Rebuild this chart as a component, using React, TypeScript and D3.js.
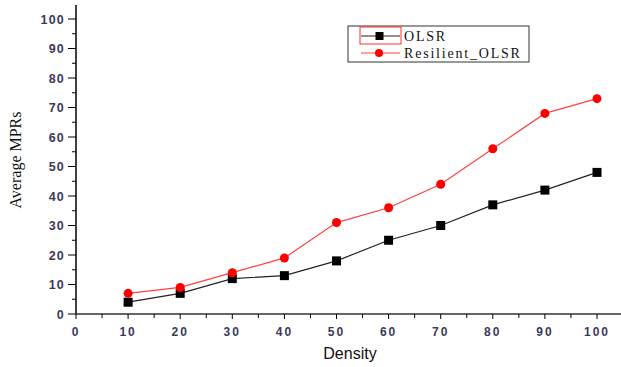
import React from "react";
import * as d3 from "d3";

const densities = [10, 20, 30, 40, 50, 60, 70, 80, 90, 100];
const olsr = [4, 7, 12, 13, 18, 25, 30, 37, 42, 48];
const resilient = [7, 9, 14, 19, 31, 36, 44, 56, 68, 73];
const xTicks = [0, 10, 20, 30, 40, 50, 60, 70, 80, 90, 100];
const yTicks = [0, 10, 20, 30, 40, 50, 60, 70, 80, 90, 100];
const seriesNames = ["OLSR", "Resilient_OLSR"];

export default function App() {
  const W = 621, H = 367;
  const x = d3.scaleLinear().domain([0, 100]).range([76, 597]);
  const y = d3.scaleLinear().domain([0, 100]).range([314, 19]);
  const line = d3.line<number>().x((_, i) => x(densities[i])).y((d) => y(d));
  const minorX = d3.range(5, 110, 10);
  const minorY = d3.range(5, 105, 10);
  const tickColor = "#3a3a5a";
  return (
    <svg width={W} height={H} style={{ position: "absolute", left: 0, top: 0 }}>
      <rect width={W} height={H} fill="#fff" />
      {/* axes */}
      <line x1={x(0)} x2={x(0)} y1={5} y2={y(0)} stroke="#000" strokeWidth={1.5} />
      <line x1={x(0)} x2={621} y1={y(0)} y2={y(0)} stroke="#333" strokeWidth={1.5} />
      {yTicks.map((t) => (
        <g key={"y" + t}>
          <line x1={x(0) - 8} x2={x(0)} y1={y(t)} y2={y(t)} stroke="#000" />
          <text x={x(0) - 11} y={y(t) + 4.5} textAnchor="end" fontFamily="Arial, Liberation Sans" fontWeight="bold" fontSize={12.5} fill={tickColor} letterSpacing={1.2}>{t}</text>
        </g>
      ))}
      {minorY.map((t) => (
        <line key={"my" + t} x1={x(0) - 4} x2={x(0)} y1={y(t)} y2={y(t)} stroke="#000" />
      ))}
      {xTicks.map((t) => (
        <g key={"x" + t}>
          <line x1={x(t)} x2={x(t)} y1={y(0)} y2={y(0) + 5} stroke="#000" />
          <text x={x(t)} y={y(0) + 22} textAnchor="middle" fontFamily="Arial, Liberation Sans" fontWeight="bold" fontSize={12} fill={tickColor} letterSpacing={2}>{t}</text>
        </g>
      ))}
      {minorX.map((t) => (
        <line key={"mx" + t} x1={x(t)} x2={x(t)} y1={y(0)} y2={y(0) + 4} stroke="#000" />
      ))}
      {/* axis titles */}
      <text x={350} y={359} textAnchor="middle" fontFamily="Arial, Liberation Sans" fontSize={16} fill="#111">Density</text>
      <text transform={`translate(21,160) rotate(-90)`} textAnchor="middle" fontFamily="Times New Roman, Liberation Serif" fontSize={16} fill="#111">Average MPRs</text>
      {/* series */}
      <path d={line(olsr) || ""} fill="none" stroke="#222" strokeWidth={1.2} />
      <path d={line(resilient) || ""} fill="none" stroke="#ff4040" strokeWidth={1.2} />
      {olsr.map((v, i) => (
        <rect key={"o" + i} x={x(densities[i]) - 4.5} y={y(v) - 4.5} width={9} height={9} fill="#000" />
      ))}
      {resilient.map((v, i) => (
        <circle key={"r" + i} cx={x(densities[i])} cy={y(v)} r={4.5} fill="#ff0000" />
      ))}
      {/* legend */}
      <rect x={348} y={26} width={181} height={36} fill="#fff" stroke="#333" strokeWidth={1} />
      <rect x={360} y={27} width={41} height={17} fill="none" stroke="#ff3030" strokeWidth={1} />
      <line x1={361} x2={400} y1={36} y2={36} stroke="#222" strokeWidth={1.2} />
      <rect x={375.5} y={32} width={8} height={8} fill="#000" />
      <line x1={361} x2={400} y1={53} y2={53} stroke="#ff4040" strokeWidth={1.2} />
      <circle cx={379} cy={53} r={4} fill="#ff0000" />
      <text x={404} y={41} fontFamily="Times New Roman, Liberation Serif" fontSize={14} letterSpacing={1.8} fill="#111">{seriesNames[0]}</text>
      <text x={404} y={58} fontFamily="Times New Roman, Liberation Serif" fontSize={14} letterSpacing={1.8} fill="#111">{seriesNames[1]}</text>
    </svg>
  );
}
